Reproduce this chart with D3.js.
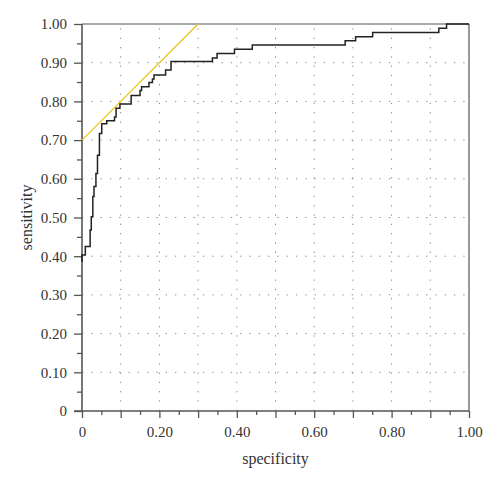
<!DOCTYPE html>
<html>
<head>
<meta charset="utf-8">
<script src="https://cdn.jsdelivr.net/npm/d3@7"></script>
<style>
  body { margin: 0; background: #fff; }
  text { font-family: "Liberation Serif", "DejaVu Serif", serif; }
</style>
</head>
<body>
<svg id="chart"></svg>
<script>
// ROC curve corners: x where the curve rises, y level after the rise
const fpr = [0, 0, 0.0086, 0.021, 0.024, 0.028, 0.031, 0.036, 0.040, 0.045, 0.051, 0.064, 0.084, 0.088,
  0.098, 0.127, 0.150, 0.154, 0.173, 0.182, 0.186, 0.216, 0.230, 0.337, 0.349, 0.394, 0.440,
  0.680, 0.707, 0.751, 0.922, 0.942, 1.0]
const tpr = [0.385, 0.403, 0.425, 0.468, 0.502, 0.554, 0.580, 0.614, 0.661, 0.717, 0.742, 0.750, 0.760, 0.782,
  0.793, 0.815, 0.828, 0.838, 0.849, 0.858, 0.868, 0.881, 0.903, 0.912, 0.924, 0.935, 0.946,
  0.957, 0.967, 0.978, 0.989, 1.0, 1.0]

// yellow reference line
const ref_x = [0, 0.30]
const ref_y = [0.70, 1.00]

const major_ticks = d3.range(0, 11).map(i => i / 10)
const minor_ticks = d3.range(0, 10).map(i => i / 10 + 0.05)
const grid_ticks = d3.range(1, 10).map(i => i / 10)
const x_labels = [0, 0.2, 0.4, 0.6, 0.8, 1.0]

const width = 500
const height = 483
const margin = {top: 24, right: 31, bottom: 72, left: 82}

const svg = d3.select("#chart").attr("width", width).attr("height", height)

const x = d3.scaleLinear().domain([0, 1]).range([margin.left, width - margin.right])
const y = d3.scaleLinear().domain([0, 1]).range([height - margin.bottom, margin.top])

const fmt = d => d === 0 ? "0" : d.toFixed(2)
const axis_color = "#555"

// dotted grid
svg.append("g").selectAll("line.vgrid")
  .data(grid_ticks).enter().append("line")
  .attr("x1", d => x(d)).attr("x2", d => x(d))
  .attr("y1", y(0)).attr("y2", y(1))
  .attr("stroke", "#888").attr("stroke-width", 1)
  .attr("stroke-dasharray", "1.3,8");

svg.append("g").selectAll("line.hgrid")
  .data(grid_ticks).enter().append("line")
  .attr("x1", x(0)).attr("x2", x(1))
  .attr("y1", d => y(d)).attr("y2", d => y(d))
  .attr("stroke", "#888").attr("stroke-width", 1)
  .attr("stroke-dasharray", "1.3,8");

// frame (top and right)
svg.append("line")
  .attr("x1", x(0)).attr("x2", x(1)).attr("y1", y(1)).attr("y2", y(1))
  .attr("stroke", axis_color).attr("stroke-width", 1.2)
svg.append("line")
  .attr("x1", x(1)).attr("x2", x(1)).attr("y1", y(1)).attr("y2", y(0))
  .attr("stroke", axis_color).attr("stroke-width", 1.2)

// y axis
svg.append("g")
  .attr("transform", `translate(${margin.left},0)`)
  .call(d3.axisLeft(y).tickValues(major_ticks).tickFormat(fmt).tickSize(8).tickPadding(7))
svg.append("g")
  .attr("transform", `translate(${margin.left},0)`)
  .call(d3.axisLeft(y).tickValues(minor_ticks).tickFormat("").tickSize(5))

// x axis
svg.append("g")
  .attr("transform", `translate(0,${height - margin.bottom})`)
  .call(d3.axisBottom(x).tickValues(major_ticks)
    .tickFormat(d => x_labels.some(v => Math.abs(v - d) < 1e-9) ? fmt(d) : "")
    .tickSize(7).tickPadding(8))
svg.append("g")
  .attr("transform", `translate(0,${height - margin.bottom})`)
  .call(d3.axisBottom(x).tickValues(minor_ticks).tickFormat("").tickSize(4))

svg.selectAll(".domain").remove()
svg.selectAll(".tick line").attr("stroke", axis_color).attr("stroke-width", 1.3)
svg.selectAll(".tick text").attr("fill", "#333").style("font-size", "15px")
  .style("font-family", '"Liberation Serif", serif')

// left and bottom axis lines
svg.append("line")
  .attr("x1", x(0)).attr("x2", x(0)).attr("y1", y(1)).attr("y2", y(0))
  .attr("stroke", axis_color).attr("stroke-width", 1.6)
svg.append("line")
  .attr("x1", x(0) - 8).attr("x2", x(1)).attr("y1", y(0)).attr("y2", y(0))
  .attr("stroke", axis_color).attr("stroke-width", 1.6)

// reference line
svg.append("line")
  .attr("x1", x(ref_x[0])).attr("y1", y(ref_y[0]))
  .attr("x2", x(ref_x[1])).attr("y2", y(ref_y[1]))
  .attr("stroke", "#ecc412").attr("stroke-width", 1.2)

// ROC curve
const points = fpr.map((d, i) => [d, tpr[i]])
const line = d3.line()
  .x(d => x(d[0]))
  .y(d => y(d[1]))
  .curve(d3.curveStepAfter)

svg.append("path")
  .attr("d", line(points))
  .attr("fill", "none")
  .attr("stroke", "#222")
  .attr("stroke-width", 1.5)

// axis titles
svg.append("text")
  .attr("x", (x(0) + x(1)) / 2)
  .attr("y", 464)
  .attr("text-anchor", "middle")
  .attr("fill", "#333")
  .style("font-size", "16px")
  .text("specificity")

svg.append("text")
  .attr("transform", `translate(32,${(y(0) + y(1)) / 2}) rotate(-90)`)
  .attr("text-anchor", "middle")
  .attr("fill", "#333")
  .style("font-size", "16px")
  .text("sensitivity")
</script>
</body>
</html>
